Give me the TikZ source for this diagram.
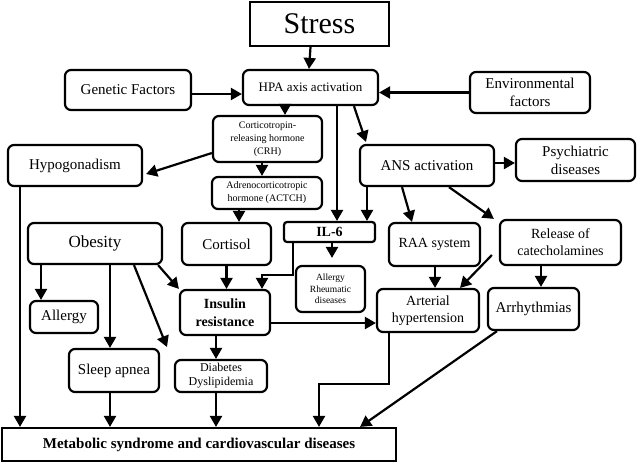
\documentclass[tikz,border=0pt]{standalone}
\usepackage{fontspec}
\setmainfont{Liberation Serif}
\usetikzlibrary{arrows.meta,calc}
\begin{document}
\begin{tikzpicture}[x=1pt,y=-1pt,
  box/.style={draw, line width=2.2pt, rounded corners=6pt, inner sep=0pt, align=center},
  sbox/.style={draw, line width=2.2pt, inner sep=0pt, align=center},
  sz/.style 2 args={minimum width=#1pt, minimum height=#2pt},
  arr/.style={line width=2.2pt, -{Triangle[width=12pt,length=11pt]}},
  fbig/.style={font=\fontsize{30}{34}\selectfont},
  fob/.style={font=\fontsize{17}{20}\selectfont},
  fA/.style={font=\fontsize{15}{18}\selectfont},
  fB/.style={font=\fontsize{14}{17}\selectfont},
  fBb/.style={font=\fontsize{14}{18}\selectfont\bfseries},
  fH/.style={font=\fontsize{13}{15}\selectfont},
  fD/.style={font=\fontsize{12}{14}\selectfont},
  fS/.style={font=\fontsize{10}{13}\selectfont},
  fSS/.style={font=\fontsize{9.5}{11.5}\selectfont},
  fM/.style={font=\fontsize{15}{18}\selectfont\bfseries}
]
\useasboundingbox (0,0) rectangle (637,464);

% nodes
\node[sbox, sz={139}{44}, fbig] (stress) at (319.5,24) {Stress};
\node[box, sz={135}{35}, fH] (hpa) at (310.5,87.5) {HPA axis activation};
\node[box, sz={126}{40}, fA] (gen) at (128,90) {Genetic Factors};
\node[box, sz={120}{41}, fA] (env) at (530,92.5) {Environmental\\factors};
\node[box, sz={109}{46}, fS] (crh) at (267.5,139) {Corticotropin-\\releasing hormone\\(CRH)};
\node[box, sz={134}{41}, fA] (hypo) at (75,165.5) {Hypogonadism};
\node[box, sz={110}{32}, fS] (actch) at (267,193) {Adrenocorticotropic\\hormone (ACTCH)};
\node[box, sz={134}{41}, fA] (ans) at (427,165.5) {ANS activation};
\node[box, sz={119}{42}, fA] (psy) at (575.5,160) {Psychiatric\\diseases};
\node[box, sz={134}{41}, fob] (obes) at (95,243.5) {Obesity};
\node[box, sz={89}{42}, fA] (cort) at (226.5,244) {Cortisol};
\node[box, rounded corners=3pt, sz={91}{20}, fBb] (il6) at (329.5,232) {IL-6};
\node[box, sz={91}{43}, fB] (raa) at (434.5,244.5) {RAA system};
\node[box, sz={121}{45}, fB] (rel) at (560.5,242.5) {Release of\\catecholamines};
\node[box, sz={68}{32}, fA] (allg) at (64,317) {Allergy};
\node[box, sz={90}{45}, fBb] (ins) at (225,312.5) {Insulin\\resistance};
\node[box, sz={69}{46}, fSS] (allrh) at (330.5,289) {Allergy\\Rheumatic\\diseases};
\node[box, sz={102}{43}, fB] (art) at (428,310.5) {Arterial\\hypertension};
\node[box, sz={91}{42}, fA] (arrh) at (533.5,309) {Arrhythmias};
\node[box, sz={90}{43}, fA] (sleep) at (114,370.5) {Sleep apnea};
\node[box, sz={92}{32}, fD] (diab) at (221,376) {Diabetes\\Dyslipidemia};
\node[sbox, sz={394}{33}, fM] (meta) at (199,444.5) {Metabolic syndrome and cardiovascular diseases};
\coordinate (oend) at (167,347);

% connectors
\draw[arr] (hpa.north |- stress.south) -- ([xshift=-1.5pt]hpa.north);
\draw[arr] ([yshift=-4pt]gen.east) -- ([yshift=-4pt]gen.east -| hpa.west);
\draw[arr] (env.west) -- (env.west -| hpa.east);
\draw[arr] ([xshift=17.5pt]crh.north |- hpa.south) -- ([xshift=17.5pt]crh.north);
\draw[arr] ([yshift=-14pt]crh.west) -- ([xshift=3pt,yshift=-8.5pt]hypo.east);
\draw[arr] ([xshift=-5.5pt]crh.south) -- ([xshift=-5.5pt]crh.south |- actch.north);
\draw[arr] ([xshift=12.5pt]cort.north |- actch.south) -- ([xshift=12.5pt]cort.north);
\draw[arr] ([xshift=7.5pt]il6.north |- hpa.south) -- ([xshift=7.5pt]il6.north);
\draw[arr] ([xshift=43.5pt]hpa.south) -- ([xshift=-61pt,yshift=2pt]ans.north);
\draw[arr] ([xshift=37.5pt]il6.north |- ans.south) -- ([xshift=37.5pt]il6.north);
\draw[arr] ([yshift=2.5pt]ans.east) -- ([yshift=2.5pt]ans.east -| psy.west);
\draw[arr] ([xshift=-25pt]ans.south) -- ([xshift=-22.5pt]raa.north);
\draw[arr] ([xshift=22pt]ans.south) -- ([xshift=-5pt]rel.north west);
\draw[arr] ([xshift=-23pt]allg.north |- obes.south) -- ([xshift=-23pt]allg.north);
\draw[arr] ([xshift=-4pt]sleep.north |- obes.south) -- ([xshift=-4pt]sleep.north);
\draw[arr] ([xshift=39pt]obes.south) -- (oend);
\draw[arr] ([xshift=-5pt]obes.south east) -- (ins.north west);
\draw[arr] (cort.south) -- (cort.south |- ins.north);
\draw[arr] ([xshift=-36.5pt]il6.south) -- ++(0,32) -| ([xshift=37pt]ins.north);
\draw[arr, shorten >=7pt] ([xshift=1.5pt]allrh.north |- il6.south) -- ([xshift=1.5pt]allrh.north);
\draw[arr] ([yshift=-10.5pt]ins.east) -- ([yshift=-10.5pt]ins.east -| art.west);
\draw[arr] ([xshift=0.5pt]raa.south) -- ([xshift=0.5pt]raa.south |- art.north);
\draw[arr] ([xshift=-7pt,yshift=-12.5pt]rel.west) -- ([xshift=32pt]art.north);
\draw[arr] ([xshift=7.5pt]arrh.north |- rel.south) -- ([xshift=7.5pt]arrh.north);
\draw[arr] ([xshift=-9pt]ins.south) -- ([xshift=-9pt]ins.south |- diab.north);
\draw[arr] ([xshift=-55pt]hypo.south) -- ([xshift=-55pt]hypo.south |- meta.north);
\draw[arr] ([xshift=-4pt]sleep.south) -- ([xshift=-4pt]sleep.south |- meta.north);
\draw[arr] ([xshift=-5pt]diab.south) -- ([xshift=-5pt]diab.south |- meta.north);
\draw[arr] ([xshift=-39pt]art.south) -- ++(0,51) -| ([xshift=120pt]meta.north);
\draw[arr] ([xshift=-36.5pt]arrh.south) -- ([xshift=-37pt]meta.north east);
\end{tikzpicture}
\end{document}
